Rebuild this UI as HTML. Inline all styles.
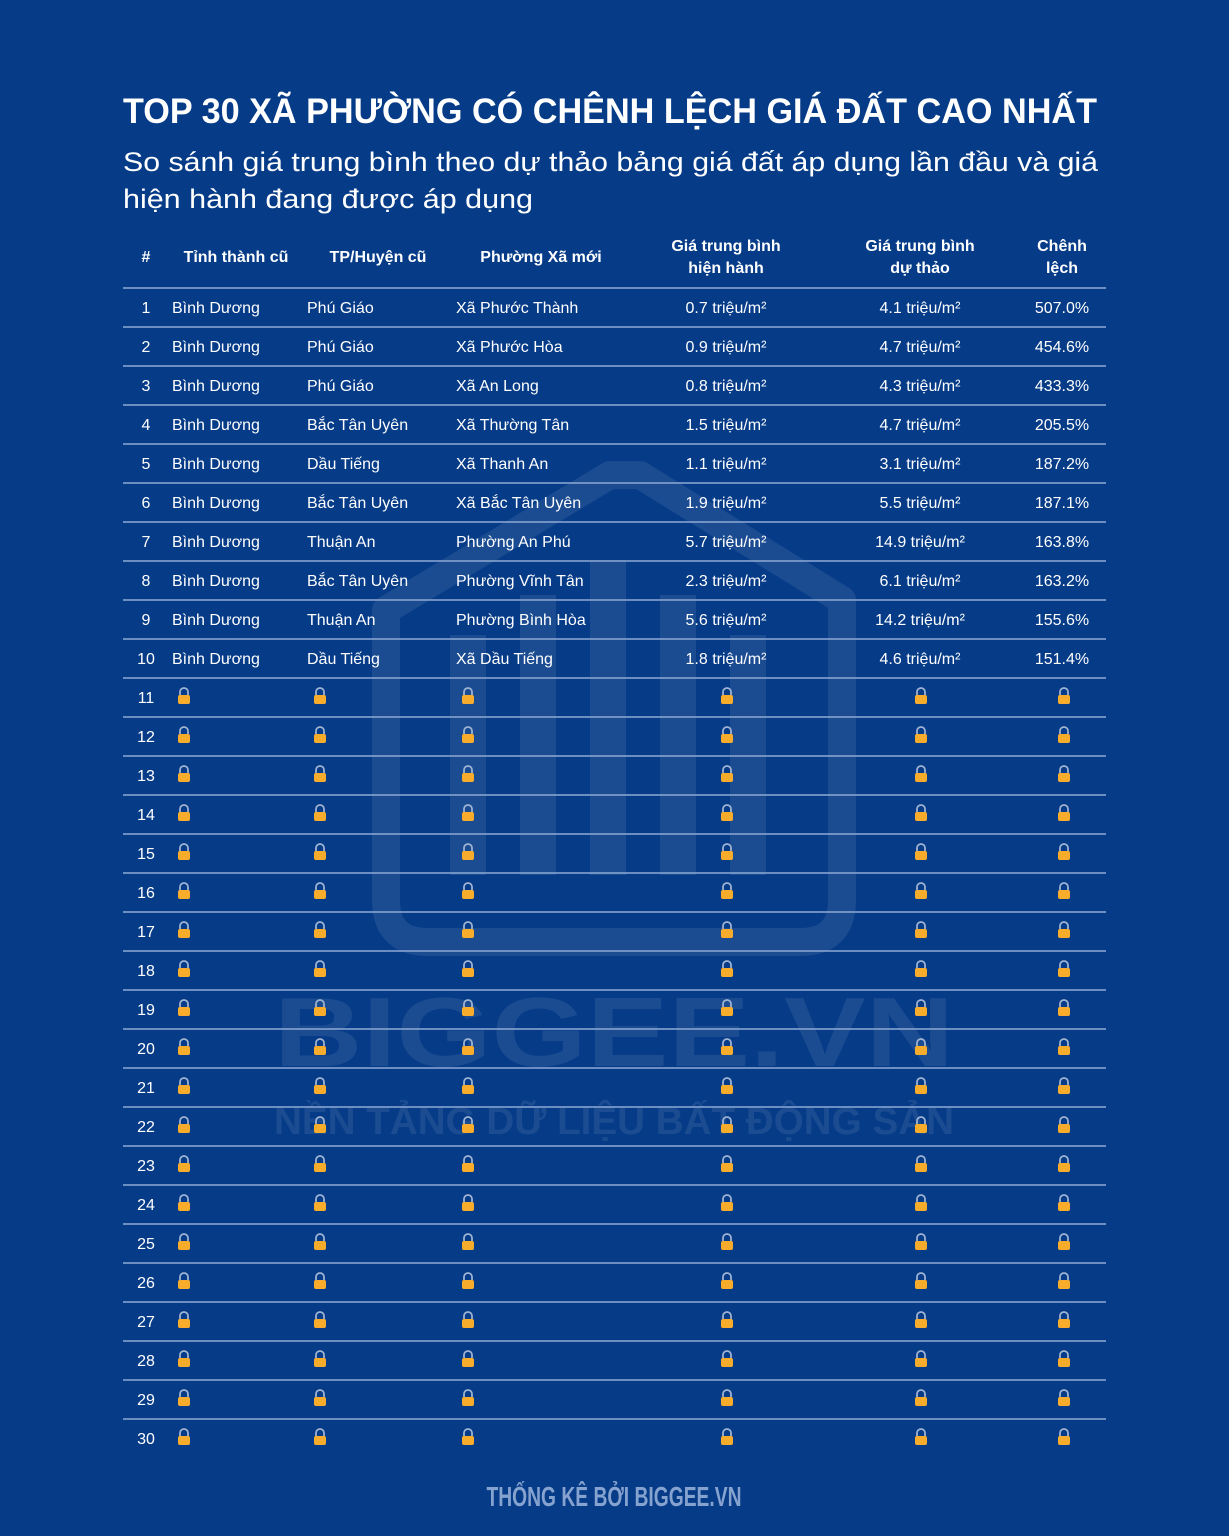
<!DOCTYPE html>
<html><head><meta charset="utf-8"><style>
body{margin:0;background:#053b87;}
svg{display:block;font-family:"Liberation Sans",sans-serif;}
</style></head><body>
<svg width="1229" height="1536" viewBox="0 0 1229 1536" xmlns="http://www.w3.org/2000/svg">
<rect width="1229" height="1536" fill="#053b87"/>
<!-- watermark -->
<g fill="none" stroke="#ffffff" stroke-opacity="0.09" stroke-width="28" stroke-linejoin="round">
<path d="M386 610 L610 475 L640 475 L842 600 L842 900 Q842 942 800 942 L428 942 Q386 942 386 900 Z"/>
</g>
<g fill="#ffffff" fill-opacity="0.09">
<rect x="450" y="635" width="36" height="240"/>
<rect x="520" y="595" width="36" height="280"/>
<rect x="590" y="560" width="36" height="315"/>
<rect x="660" y="595" width="36" height="280"/>
<rect x="730" y="635" width="36" height="240"/>
<text x="614" y="1066" text-anchor="middle" font-size="98" font-weight="bold" textLength="680" lengthAdjust="spacingAndGlyphs">BIGGEE.VN</text>
<text x="614" y="1134" text-anchor="middle" font-size="38" font-weight="bold" textLength="680" lengthAdjust="spacingAndGlyphs">NỀN TẢNG DỮ LIỆU BẤT ĐỘNG SẢN</text>
</g>
<text x="123" y="123" fill="#fff" font-size="35" font-weight="bold" textLength="974" lengthAdjust="spacingAndGlyphs">TOP 30 XÃ PHƯỜNG CÓ CHÊNH LỆCH GIÁ ĐẤT CAO NHẤT</text>
<text x="123" y="171" fill="#fff" font-size="27" textLength="975" lengthAdjust="spacingAndGlyphs">So sánh giá trung bình theo dự thảo bảng giá đất áp dụng lần đầu và giá</text>
<text x="123" y="208" fill="#fff" font-size="27" textLength="410" lengthAdjust="spacingAndGlyphs">hiện hành đang được áp dụng</text>
<g fill="#fff" font-size="16" font-weight="bold" text-anchor="middle">
<text x="146" y="262">#</text>
<text x="236" y="262">Tỉnh thành cũ</text>
<text x="378" y="262">TP/Huyện cũ</text>
<text x="541" y="262">Phường Xã mới</text>
<text x="726" y="251">Giá trung bình</text>
<text x="726" y="273">hiện hành</text>
<text x="920" y="251">Giá trung bình</text>
<text x="920" y="273">dự thảo</text>
<text x="1062" y="251">Chênh</text>
<text x="1062" y="273">lệch</text>
</g>
<g id="rows" fill="#fff" font-size="16"></g>
</svg>
<script>
const data=[
["Phú Giáo","Xã Phước Thành","0.7","4.1","507.0%"],
["Phú Giáo","Xã Phước Hòa","0.9","4.7","454.6%"],
["Phú Giáo","Xã An Long","0.8","4.3","433.3%"],
["Bắc Tân Uyên","Xã Thường Tân","1.5","4.7","205.5%"],
["Dầu Tiếng","Xã Thanh An","1.1","3.1","187.2%"],
["Bắc Tân Uyên","Xã Bắc Tân Uyên","1.9","5.5","187.1%"],
["Thuận An","Phường An Phú","5.7","14.9","163.8%"],
["Bắc Tân Uyên","Phường Vĩnh Tân","2.3","6.1","163.2%"],
["Thuận An","Phường Bình Hòa","5.6","14.2","155.6%"],
["Dầu Tiếng","Xã Dầu Tiếng","1.8","4.6","151.4%"]];
const g=document.getElementById('rows');let h='';
h+='<line x1="123" x2="1106" y1="288" y2="288" stroke="#8fa9d6" stroke-width="1.5"/>';
function lock(x,y){return `<path d="M${x-4} ${y-2} v-3 a4 4 0 0 1 8 0 v3" fill="none" stroke="#9fb3d3" stroke-width="1.8"/><rect x="${x-6}" y="${y-2}" width="12" height="9" rx="2" fill="#f7ac2b"/>`;}
for(let i=1;i<=30;i++){
 const c=307+(i-1)*39, y=c+6;
 if(i<30) h+=`<line x1="123" x2="1106" y1="${c+20}" y2="${c+20}" stroke="#8fa9d6" stroke-width="1.5"/>`;
 h+=`<text x="146" y="${y}" text-anchor="middle">${i}</text>`;
 if(i<=10){const d=data[i-1];
  h+=`<text x="172" y="${y}">Bình Dương</text><text x="307" y="${y}">${d[0]}</text><text x="456" y="${y}">${d[1]}</text>`;
  h+=`<text x="726" y="${y}" text-anchor="middle">${d[2]} triệu/m²</text><text x="920" y="${y}" text-anchor="middle">${d[3]} triệu/m²</text><text x="1062" y="${y}" text-anchor="middle">${d[4]}</text>`;
 } else {[184,320,468,727,921,1064].forEach(x=>h+=lock(x,c));}
}
h+='<text x="614" y="1506" text-anchor="middle" font-size="28" font-weight="bold" fill="#86a2cf" textLength="255" lengthAdjust="spacingAndGlyphs">THỐNG KÊ BỞI BIGGEE.VN</text>';
g.innerHTML=h;
</script>
</body></html>
